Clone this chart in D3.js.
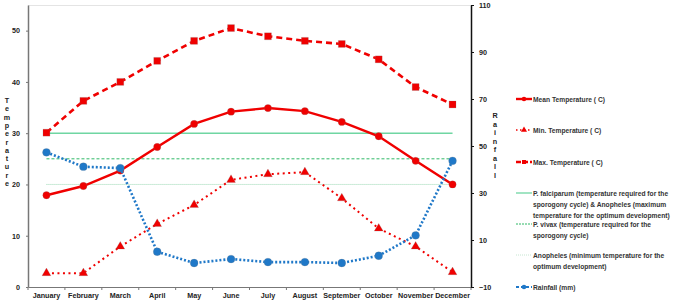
<!DOCTYPE html>
<html>
<head>
<meta charset="utf-8">
<script src="https://cdn.jsdelivr.net/npm/d3@7"></script>
<style>
  body { margin: 0; background: #fff; }
  svg { display: block; font-family: "Liberation Sans", Arial, sans-serif; }
</style>
</head>
<body>
<div id="wrapper"></div>
<script>
const months = ["January", "February", "March", "April", "May", "June", "July",
  "August", "September", "October", "November", "December"]
const meanTemp = [17.9, 19.7, 22.7, 27.3, 31.8, 34.2, 34.9, 34.3, 32.2, 29.4, 24.6, 20.0]
const minTemp = [2.7, 2.7, 7.9, 12.3, 16.0, 20.9, 22.0, 22.4, 17.3, 11.4, 7.9, 2.9]
const maxTemp = [30.1, 36.3, 40.0, 44.1, 48.0, 50.5, 48.9, 48.0, 47.4, 44.4, 39.0, 35.6]
const rainfall = [47.3, 41.2, 40.6, 5.0, 0.2, 1.9, 0.6, 0.6, 0.2, 3.3, 12.0, 43.7]
const thresholds = [30, 25, 20]
const leftTicks = [0, 10, 20, 30, 40, 50]
const rightTicks = [-10, 10, 30, 50, 70, 90, 110]

function draw() {
  const dimensions = {
    width: 677,
    height: 300,
    margin: { top: 5, left: 28, bottom: 13 },
    plotRight: 471
  }
  const plotBottom = dimensions.height - dimensions.margin.bottom

  const svg = d3.select("#wrapper").append("svg")
      .attr("width", dimensions.width)
      .attr("height", dimensions.height)

  // scales
  const xScale = d3.scaleBand()
    .domain(months)
    .range([dimensions.margin.left, dimensions.plotRight])
  const xPos = (d, i) => xScale(months[i]) + xScale.bandwidth() / 2

  const yLeft = d3.scaleLinear()
    .domain([0, 55])
    .range([plotBottom, dimensions.margin.top])
  const yRight = d3.scaleLinear()
    .domain([-10, 110])
    .range([plotBottom, dimensions.margin.top])

  // top border
  svg.append("line")
      .attr("x1", dimensions.margin.left).attr("x2", dimensions.plotRight)
      .attr("y1", dimensions.margin.top + 0.5).attr("y2", dimensions.margin.top + 0.5)
      .attr("stroke", "#e4e4e4")

  // axes
  const fontStyle = (sel, size = 7.2) => sel
      .style("font-size", size + "px")
      .style("font-weight", "bold")
      .style("fill", "#222")
      .style("font-family", "Liberation Sans, Arial")

  const xAxis = svg.append("g")
      .attr("transform", `translate(0, ${plotBottom})`)
      .call(d3.axisBottom(xScale).tickSize(0).tickPadding(6))
  xAxis.select(".domain").attr("stroke", "#777").attr("stroke-width", 1.2)
  xAxis.selectAll("text").call(fontStyle)
  svg.append("g").selectAll("line")
    .data(d3.range(13))
    .join("line")
      .attr("x1", i => dimensions.margin.left + i * xScale.step())
      .attr("x2", i => dimensions.margin.left + i * xScale.step())
      .attr("y1", plotBottom)
      .attr("y2", plotBottom + 3)
      .attr("stroke", "#777")

  const leftAxis = svg.append("g")
      .attr("transform", `translate(${dimensions.margin.left}, 0)`)
      .call(d3.axisLeft(yLeft).tickValues(leftTicks).tickSize(2).tickPadding(6).tickSizeOuter(0))
  leftAxis.select(".domain").attr("stroke", "#777").attr("stroke-width", 1.5)
  leftAxis.selectAll("line").attr("stroke", "#777")
  leftAxis.selectAll("text").call(fontStyle)

  const rightAxis = svg.append("g")
      .attr("transform", `translate(${dimensions.plotRight}, 0)`)
      .call(d3.axisRight(yRight).tickValues(rightTicks).tickSize(3).tickPadding(5).tickSizeOuter(0))
  rightAxis.select(".domain").attr("stroke", "#111").attr("stroke-width", 1.5)
  rightAxis.selectAll("line").attr("stroke", "#111")
  rightAxis.selectAll("text").call(fontStyle)

  // axis titles, stacked letters
  const stacked = (word, x, y0, step) => svg.append("g").selectAll("text")
    .data(word.split(""))
    .join("text")
      .attr("x", x)
      .attr("y", (d, i) => y0 + i * step)
      .attr("text-anchor", "middle")
      .text(d => d)
      .call(fontStyle)
  stacked("Temperature", 7, 103, 8.3)
  stacked("Rainfall", 495, 118, 8.5)

  // threshold lines
  const thresholdStyles = [
    { color: "#6fd6a2", width: 1.6, dash: null },
    { color: "#2fb866", width: 1, dash: "3,2" },
    { color: "#8fd4aa", width: 0.9, dash: "1,1" }
  ]
  svg.append("g").selectAll("line")
    .data(thresholds)
    .join("line")
      .attr("x1", xPos(null, 0))
      .attr("x2", xPos(null, 11))
      .attr("y1", d => yLeft(d))
      .attr("y2", d => yLeft(d))
      .attr("stroke", (d, i) => thresholdStyles[i].color)
      .attr("stroke-width", (d, i) => thresholdStyles[i].width)
      .attr("stroke-dasharray", (d, i) => thresholdStyles[i].dash)

  const red = "#f00000"
  const blue = "#1f78c8"

  const drawSeries = (values, yScale, color, width, dash, marker) => {
    const g = svg.append("g")
    const line = d3.line()
      .x(xPos)
      .y(d => yScale(d))
    g.append("path")
      .datum(values)
      .attr("d", line)
      .attr("fill", "none")
      .attr("stroke", color)
      .attr("stroke-width", width)
      .attr("stroke-dasharray", dash)
    g.selectAll("path.marker")
      .data(values)
      .join("path")
        .attr("class", "marker")
        .attr("transform", (d, i) => `translate(${xPos(d, i)}, ${yScale(d)})`)
        .attr("d", d3.symbol().type(marker.type).size(marker.size))
        .attr("fill", color)
        .attr("stroke", "rgba(120,120,120,0.35)")
        .attr("stroke-width", 0.6)
  }

  drawSeries(maxTemp, yLeft, red, 2.6, "6,4", { type: d3.symbolSquare, size: 48 })
  drawSeries(meanTemp, yLeft, red, 2.4, null, { type: d3.symbolCircle, size: 42 })
  drawSeries(minTemp, yLeft, red, 2, "2,3.5", { type: d3.symbolTriangle, size: 34 })
  drawSeries(rainfall, yRight, blue, 2.6, "2,2", { type: d3.symbolCircle, size: 48 })

  // legend
  const legend = svg.append("g")
  const legendItems = [
    { lines: ["Mean Temperature ( C)"], y: 99, color: red, width: 2.4, dash: null, marker: d3.symbolCircle },
    { lines: ["Min. Temperature ( C)"], y: 130, color: red, width: 1.6, dash: "1.5,2.5", marker: d3.symbolTriangle },
    { lines: ["Max. Temperature ( C)"], y: 162, color: red, width: 2.4, dash: "5,2", marker: d3.symbolSquare },
    { lines: ["P. falciparum (temperature required for the",
      "sporogony cycle) & Anopheles (maximum",
      "temperature for the optimum development)"], y: 193, color: "#6fd6a2", width: 1.3, dash: null },
    { lines: ["P. vivax (temperature required for the",
      "sporogony cycle)"], y: 224, color: "#2fb866", width: 1, dash: "2,1" },
    { lines: ["Anopheles (minimum temperature for the",
      "optimum development)"], y: 255, color: "#bfe3cc", width: 0.9, dash: "1,1" },
    { lines: ["Rainfall (mm)"], y: 287, color: blue, width: 2.2, dash: "3,2", marker: d3.symbolCircle }
  ]
  legendItems.forEach(item => {
    legend.append("line")
        .attr("x1", 516).attr("x2", 532)
        .attr("y1", item.y).attr("y2", item.y)
        .attr("stroke", item.color)
        .attr("stroke-width", item.width)
        .attr("stroke-dasharray", item.dash)
    if (item.marker) {
      legend.append("path")
          .attr("transform", `translate(524, ${item.y})`)
          .attr("d", d3.symbol().type(item.marker).size(16))
          .attr("fill", item.color)
    }
    legend.append("g").selectAll("text")
      .data(item.lines)
      .join("text")
        .attr("x", 533)
        .attr("y", (d, i) => item.y + 2.5 + i * 11)
        .text(d => d)
        .call(fontStyle, 6.7)
        .style("fill", "#333")
  })
}

draw()
</script>
</body>
</html>
